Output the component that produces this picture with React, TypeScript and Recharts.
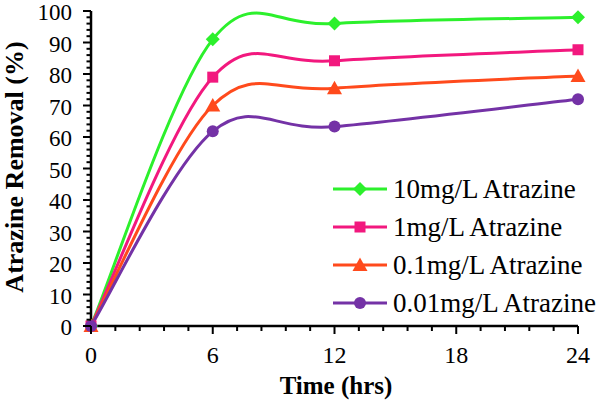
import React from 'react';
import { LineChart, Line, XAxis, YAxis, Legend, Label } from 'recharts';

const times = [0, 6, 12, 24];
const s10 = [0, 91, 96, 98];
const s1 = [0, 79, 84.2, 87.7];
const s01 = [0, 70, 75.5, 79.4];
const s001 = [0, 61.8, 63.3, 72];
const seriesNames = ['10mg/L Atrazine', '1mg/L Atrazine', '0.1mg/L Atrazine', '0.01mg/L Atrazine'];
const seriesKeys = ['a', 'b', 'c', 'd'];
const seriesColors = ['#2CF02C', '#F2187E', '#FF4A1C', '#7432A6'];
const seriesShapes = ['diamond', 'square', 'triangle', 'circle'];
const xMajor = [0, 6, 12, 18, 24];
const xTicks = [0, 1.2, 2.4, 3.6, 4.8, 6, 7.2, 8.4, 9.6, 10.8, 12, 13.2, 14.4, 15.6, 16.8, 18, 19.2, 20.4, 21.6, 22.8, 24];
const yMajor = [0, 10, 20, 30, 40, 50, 60, 70, 80, 90, 100];
const yTicks = Array.from({ length: 51 }, (_, i) => i * 2);

const data = times.map((t, i) => ({ t, a: s10[i], b: s1[i], c: s01[i], d: s001[i] }));

const FONT = 'Liberation Serif, Times New Roman, serif';

// Excel-like smoothed line (uniform Catmull-Rom / cardinal, k = 1/6)
function excelSmooth(context: any) {
  let pts: number[][] = [];
  return {
    areaStart() {},
    areaEnd() {},
    lineStart() {
      pts = [];
    },
    point(x: number, y: number) {
      pts.push([+x, +y]);
    },
    lineEnd() {
      const n = pts.length;
      if (!n) return;
      context.moveTo(pts[0][0], pts[0][1]);
      for (let i = 0; i < n - 1; i++) {
        const p0 = pts[i - 1] || pts[i];
        const p1 = pts[i];
        const p2 = pts[i + 1];
        const p3 = pts[i + 2] || pts[i + 1];
        context.bezierCurveTo(
          p1[0] + (p2[0] - p0[0]) / 6,
          p1[1] + (p2[1] - p0[1]) / 6,
          p2[0] - (p3[0] - p1[0]) / 6,
          p2[1] - (p3[1] - p1[1]) / 6,
          p2[0],
          p2[1]
        );
      }
    },
  };
}

function Marker({ shape, cx, cy, color }: { shape: string; cx: number; cy: number; color: string }) {
  if (shape === 'diamond') {
    const r = 7;
    return <path d={`M${cx},${cy - r}L${cx + r},${cy}L${cx},${cy + r}L${cx - r},${cy}Z`} fill={color} />;
  }
  if (shape === 'square') {
    const h = 5.5;
    return <rect x={cx - h} y={cy - h} width={2 * h} height={2 * h} fill={color} />;
  }
  if (shape === 'triangle') {
    const s = 7.5;
    return <path d={`M${cx},${cy - s}L${cx + s},${cy + s * 0.8}L${cx - s},${cy + s * 0.8}Z`} fill={color} />;
  }
  return <circle cx={cx} cy={cy} r={6} fill={color} />;
}

function makeDot(shape: string, color: string) {
  return (props: any) => {
    const { cx, cy, index } = props;
    if (cx == null || cy == null) return <g key={`n${index}`} />;
    return (
      <g key={`${shape}-${index}`}>
        <Marker shape={shape} cx={cx} cy={cy} color={color} />
      </g>
    );
  };
}

const XTick = (props: any) => {
  const { x, y, payload } = props;
  const major = xMajor.includes(payload.value);
  return (
    <g>
      <line x1={x} y1={y} x2={x} y2={y + (major ? 8 : 5)} stroke="#000" strokeWidth={2} />
      {major && (
        <text x={x} y={y + 37} textAnchor="middle" style={{ fontFamily: FONT }} fontSize={24} fill="#000">
          {payload.value}
        </text>
      )}
    </g>
  );
};

const YTick = (props: any) => {
  const { x, y, payload } = props;
  const major = yMajor.includes(payload.value);
  return (
    <g>
      <line x1={x} y1={y} x2={x - (major ? 8 : 4.5)} y2={y} stroke="#000" strokeWidth={2} />
      {major && (
        <text x={x - 19} y={y + 9} textAnchor="end" style={{ fontFamily: FONT }} fontSize={23} fill="#000">
          {payload.value}
        </text>
      )}
    </g>
  );
};

const LegendBox = () => (
  <svg width={280} height={160} style={{ display: 'block' }}>
    {seriesNames.map((name, i) => {
      const cy = 24 + i * 38;
      return (
        <g key={name}>
          <line x1={13} y1={cy} x2={67} y2={cy} stroke={seriesColors[i]} strokeWidth={3} />
          <Marker shape={seriesShapes[i]} cx={40} cy={cy} color={seriesColors[i]} />
          <text x={73} y={cy + 9} style={{ fontFamily: FONT }} fontSize={27} fill="#000">
            {name}
          </text>
        </g>
      );
    })}
  </svg>
);

export default function App() {
  return (
    <div style={{ position: 'absolute', left: 0, top: 0, width: 600, height: 402, background: '#fff' }}>
      <LineChart width={600} height={402} data={data} margin={{ top: 11, right: 22, left: 0, bottom: 0 }}>
        <XAxis
          dataKey="t"
          type="number"
          domain={[0, 24]}
          ticks={xTicks}
          interval={0}
          tickLine={false}
          tickSize={0}
          tickMargin={0}
          tick={<XTick />}
          axisLine={{ stroke: '#000', strokeWidth: 2.5 }}
          height={76}
        >
          <Label
            content={() => (
              <text x={336} y={394} textAnchor="middle" style={{ fontFamily: FONT }} fontWeight="bold" fontSize={25} fill="#000">
                Time (hrs)
              </text>
            )}
          />
        </XAxis>
        <YAxis
          type="number"
          domain={[0, 100]}
          ticks={yTicks}
          interval={0}
          tickLine={false}
          tickSize={0}
          tickMargin={0}
          tick={<YTick />}
          axisLine={{ stroke: '#000', strokeWidth: 2.5 }}
          width={91}
        >
          <Label
            content={() => (
              <text
                x={23}
                y={167}
                transform="rotate(-90, 23, 167)"
                textAnchor="middle"
                style={{ fontFamily: FONT }}
                fontWeight="bold"
                fontSize={26}
                fill="#000"
              >
                Atrazine Removal (%)
              </text>
            )}
          />
        </YAxis>
        <Legend
          layout="vertical"
          align="center"
          verticalAlign="middle"
          content={() => <LegendBox />}
          wrapperStyle={{ position: 'absolute', left: 320, top: 165, width: 280, height: 160 }}
        />
        {seriesKeys.map((k, i) => (
          <Line
            key={k}
            dataKey={k}
            name={seriesNames[i]}
            type={excelSmooth as any}
            stroke={seriesColors[i]}
            strokeWidth={3}
            dot={makeDot(seriesShapes[i], seriesColors[i])}
            activeDot={false}
            isAnimationActive={false}
          />
        ))}
      </LineChart>
    </div>
  );
}
